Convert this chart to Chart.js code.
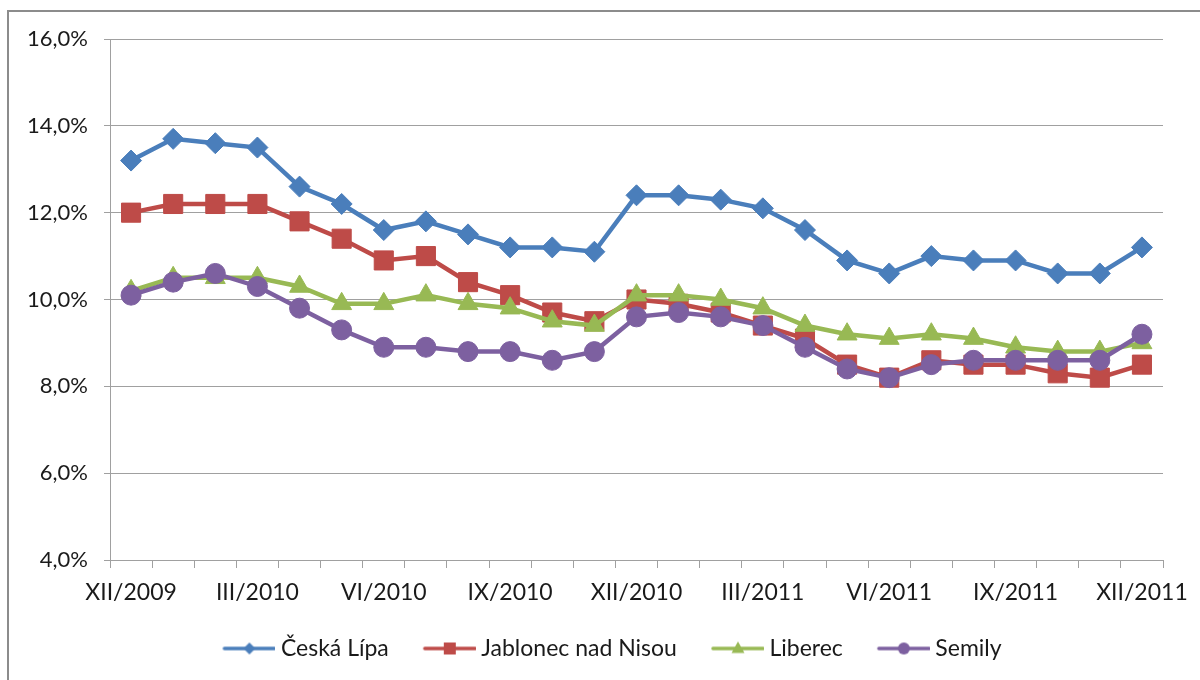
<!DOCTYPE html>
<html>
<head>
<meta charset="utf-8">
<script src="https://cdn.jsdelivr.net/npm/chart.js@4.4.1/dist/chart.umd.min.js"></script>
<style>
  html, body { margin: 0; padding: 0; background: #ffffff; overflow: hidden; }
  #frame { position: absolute; left: 7px; top: 10px; width: 1400px; height: 900px; border: 2px solid #8c8c8c; box-sizing: border-box; }
  #c { position: absolute; left: 0; top: 0; }
</style>
</head>
<body>
<div id="frame"></div>
<canvas id="c" width="1200" height="680"></canvas>
<script>
// ---- data ----
const categories = [
  'XII/2009','I/2010','II/2010','III/2010','IV/2010','V/2010','VI/2010','VII/2010','VIII/2010','IX/2010','X/2010','XI/2010',
  'XII/2010','I/2011','II/2011','III/2011','IV/2011','V/2011','VI/2011','VII/2011','VIII/2011','IX/2011','X/2011','XI/2011','XII/2011'
];
const seriesNames = ['Česká Lípa', 'Jablonec nad Nisou', 'Liberec', 'Semily'];
const ceskaLipa = [13.2, 13.7, 13.6, 13.5, 12.6, 12.2, 11.6, 11.8, 11.5, 11.2, 11.2, 11.1, 12.4, 12.4, 12.3, 12.1, 11.6, 10.9, 10.6, 11.0, 10.9, 10.9, 10.6, 10.6, 11.2];
const jablonec  = [12.0, 12.2, 12.2, 12.2, 11.8, 11.4, 10.9, 11.0, 10.4, 10.1, 9.7, 9.5, 10.0, 9.9, 9.7, 9.4, 9.1, 8.5, 8.2, 8.6, 8.5, 8.5, 8.3, 8.2, 8.5];
const liberec   = [10.2, 10.5, 10.5, 10.5, 10.3, 9.9, 9.9, 10.1, 9.9, 9.8, 9.5, 9.4, 10.1, 10.1, 10.0, 9.8, 9.4, 9.2, 9.1, 9.2, 9.1, 8.9, 8.8, 8.8, 9.0];
const semily    = [10.1, 10.4, 10.6, 10.3, 9.8, 9.3, 8.9, 8.9, 8.8, 8.8, 8.6, 8.8, 9.6, 9.7, 9.6, 9.4, 8.9, 8.4, 8.2, 8.5, 8.6, 8.6, 8.6, 8.6, 9.2];
const yTicks = [4, 6, 8, 10, 12, 14, 16];

// ---- styles ----
const colors = ['#4A7EBB', '#BE4B48', '#98B954', '#7D60A0'];
const shapes = ['rectRot', 'rect', 'triangle', 'circle'];
const radii  = [10.5, 13.5, 11.5, 10];
const FONT = 'Lato, "DejaVu Sans", sans-serif';
const TEXT = '#1a1a1a';
const GRID = '#a0a0a0';

function legendIcon(color, shape) {
  const cv = document.createElement('canvas');
  cv.width = 83; cv.height = 20;
  const g = cv.getContext('2d');
  g.strokeStyle = color; g.fillStyle = color;
  g.lineWidth = 3.5; g.lineCap = 'round';
  g.beginPath(); g.moveTo(32, 10); g.lineTo(82, 10); g.stroke();
  const cx = 57, cy = 10;
  g.beginPath();
  if (shape === 'rectRot') { g.moveTo(cx - 6, cy); g.lineTo(cx, cy - 6); g.lineTo(cx + 6, cy); g.lineTo(cx, cy + 6); g.closePath(); }
  else if (shape === 'rect') { g.rect(cx - 6, cy - 6, 12, 12); }
  else if (shape === 'triangle') { g.moveTo(cx, cy - 7); g.lineTo(cx + 6.5, cy + 4.5); g.lineTo(cx - 6.5, cy + 4.5); g.closePath(); }
  else { g.arc(cx, cy, 6, 0, Math.PI * 2); }
  g.fill();
  return cv;
}

const seriesData = [ceskaLipa, jablonec, liberec, semily];
const datasets = seriesNames.map((name, i) => ({
  label: name,
  data: seriesData[i],
  borderColor: colors[i],
  backgroundColor: colors[i],
  borderWidth: 4.5,
  tension: 0,
  pointStyle: shapes[i],
  pointRadius: radii[i],
  pointHoverRadius: radii[i],
  pointBackgroundColor: colors[i],
  pointBorderColor: colors[i],
  pointBorderWidth: 1,
  order: seriesNames.length - i
}));

new Chart(document.getElementById('c'), {
  type: 'line',
  data: { labels: categories, datasets: datasets },
  options: {
    responsive: false,
    animation: false,
    devicePixelRatio: 1,
    layout: { padding: { left: 0, right: 0, top: 39, bottom: 10 } },
    plugins: {
      tooltip: { enabled: false },
      legend: {
        position: 'bottom',
        labels: {
          usePointStyle: true,
          pointStyleWidth: 71,
          padding: 10,
          color: TEXT,
          font: { family: FONT, size: 23 },
          generateLabels: (chart) => chart.data.datasets.map((ds, i) => ({
            text: ds.label,
            pointStyle: legendIcon(colors[i], shapes[i]),
            fillStyle: colors[i],
            strokeStyle: colors[i],
            lineWidth: 0,
            fontColor: TEXT,
            hidden: false,
            datasetIndex: i
          }))
        }
      }
    },
    scales: {
      x: {
        offset: true,
        grid: { display: true, offset: true, drawOnChartArea: false, drawTicks: true, tickLength: 8, color: GRID, lineWidth: 1 },
        border: { display: true, color: GRID, width: 1 },
        ticks: {
          autoSkip: false, maxRotation: 0, minRotation: 0, padding: 11,
          color: TEXT, font: { family: FONT, size: 23 },
          callback: function (v, idx) { return idx % 3 === 0 ? categories[idx] : ''; }
        },
        afterFit: (s) => { s.height = 67; }
      },
      y: {
        min: 4, max: 16,
        afterBuildTicks: (s) => { s.ticks = yTicks.map(v => ({ value: v })); },
        grid: { color: GRID, lineWidth: 1, drawTicks: true, tickLength: 6 },
        border: { display: true, color: GRID, width: 1 },
        ticks: {
          padding: 16, color: TEXT, font: { family: FONT, size: 22 },
          callback: (v) => v.toFixed(1).replace('.', ',') + '%'
        },
        afterFit: (s) => { s.width = 110; }
      },
      yRightSpace: {
        position: 'right',
        min: 4, max: 16,
        grid: { display: false, drawOnChartArea: false },
        border: { display: false },
        ticks: { display: false },
        afterFit: (s) => { s.width = 37; }
      }
    }
  }
});
</script>
</body>
</html>
